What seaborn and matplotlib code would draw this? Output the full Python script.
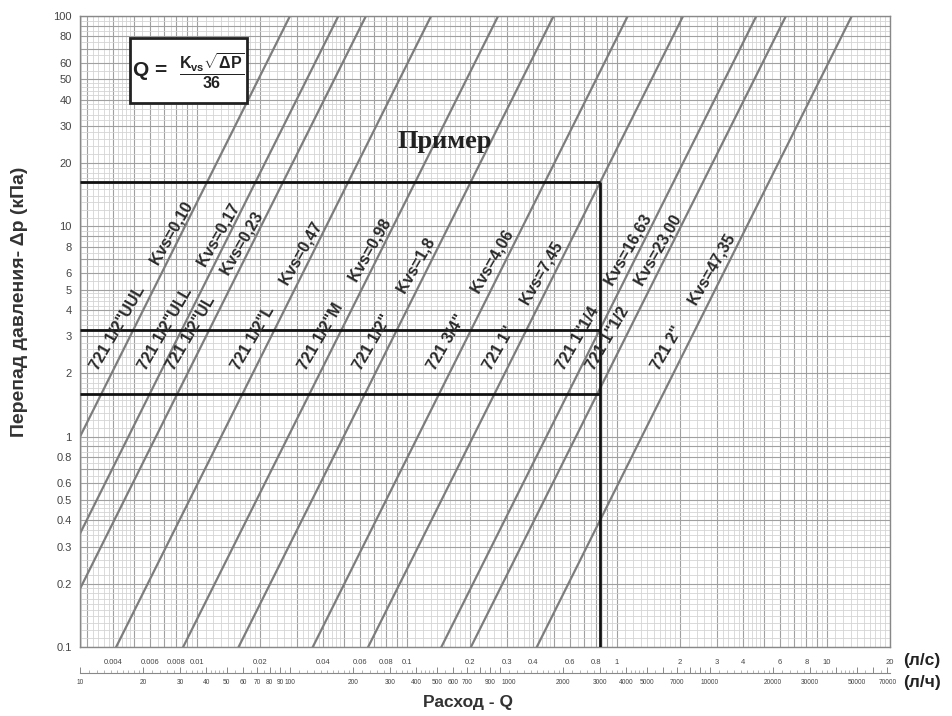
import numpy as np
import pandas as pd
import matplotlib
matplotlib.use('Agg')
import matplotlib.pyplot as plt
import seaborn as sns
from matplotlib import font_manager
from matplotlib.patches import Rectangle
from matplotlib.ticker import NullFormatter
from matplotlib.transforms import ScaledTranslation

# valve data: Kvs value, printed Kvs text, model name
kvs = [0.10, 0.17, 0.23, 0.47, 0.98, 1.8, 4.06, 7.45, 16.63, 23.00, 47.35]
kvs_txt = ['0,10', '0,17', '0,23', '0,47', '0,98', '1,8', '4,06', '7,45', '16,63', '23,00', '47,35']
models = ['721 1/2"UUL', '721 1/2"ULL', '721 1/2"UL', '721 1/2"L', '721 1/2"M', '721 1/2"',
          '721 3/4"', '721 1"', '721 1"1/4', '721 1"1/2', '721 2"']

dp_ends = [0.05, 200]      # kPa, lines run past the frame
label_dp = 2.05            # where the labels start

# example ("Пример")
ex_q = 3000                # l/h
ex_dp = [16.2, 3.2, 1.6]   # kPa

# tick labels
ls_labels = [0.004, 0.006, 0.008, 0.01, 0.02, 0.04, 0.06, 0.08, 0.1, 0.2, 0.3, 0.4,
             0.6, 0.8, 1, 2, 3, 4, 6, 8, 10, 20]
lh_labels = [10, 20, 30, 40, 50, 60, 70, 80, 90, 100, 200, 300, 400, 500, 600, 700, 900, 1000,
             2000, 3000, 4000, 5000, 7000, 10000, 20000, 30000, 50000, 70000]
dp_labels = [0.1, 0.2, 0.3, 0.4, 0.5, 0.6, 0.8, 1, 2, 3, 4, 5, 6, 8, 10, 20, 30, 40, 50, 60, 80, 100]

sns.set_style('white')
names = {f.name for f in font_manager.fontManager.ttflist}
narrow = 'Liberation Sans Narrow' if 'Liberation Sans Narrow' in names else 'Liberation Sans'
plt.rcParams['font.family'] = ['Liberation Sans', 'DejaVu Sans']
plt.rcParams['mathtext.fontset'] = 'custom'
plt.rcParams['mathtext.bf'] = 'Liberation Sans:bold'
plt.rcParams['mathtext.rm'] = 'Liberation Sans:bold'
plt.rcParams['mathtext.it'] = 'Liberation Sans:bold'

rows = []
for k, m in zip(kvs, models):
    for d in dp_ends:
        rows.append({'model': m, 'q': k * np.sqrt(d) / 36, 'dp': d})
df = pd.DataFrame(rows)

fig = plt.figure(figsize=(9.52, 7.16), dpi=100)
ax = fig.add_axes([80 / 952, 69 / 716, 810 / 952, 631 / 716])

sns.lineplot(data=df, x='q', y='dp', units='model', estimator=None, sort=False,
             color='#7d7d7d', lw=1.6, legend=False, ax=ax, zorder=2)

ax.set_xscale('log')
ax.set_yscale('log')
xmin, xmax = 10 / 3600, 20
ax.set_xlim(xmin, xmax)
ax.set_ylim(0.1, 100)


def decade_steps(lo, hi, subs):
    out = []
    for e in range(-4, 6):
        for s in subs:
            v = s * 10.0 ** e
            if lo * 0.999 <= v <= hi * 1.001:
                out.append(v)
    return out


major_subs = [1, 2, 3, 4, 5, 6, 7, 8, 9]
fine_subs = [1.1, 1.2, 1.3, 1.4, 1.5, 1.6, 1.7, 1.8, 1.9, 2.2, 2.4, 2.6, 2.8, 3.2, 3.4, 3.6, 3.8,
             4.2, 4.4, 4.6, 4.8, 5.5, 6.5, 7.5, 8.5, 9.5]


def labels_for(vals, shown):
    return [f'{v:g}' if any(np.isclose(v, s) for s in shown) else '' for v in vals]


xmaj = decade_steps(xmin, xmax, major_subs)
ax.set_xticks(xmaj)
ax.set_xticklabels(labels_for(xmaj, ls_labels))
ax.set_xticks(decade_steps(xmin, xmax, fine_subs), minor=True)
ymaj = decade_steps(0.1, 100, major_subs)
ax.set_yticks(ymaj)
ax.set_yticklabels(labels_for(ymaj, dp_labels))
ax.set_yticks(decade_steps(0.1, 100, fine_subs), minor=True)
ax.xaxis.set_minor_formatter(NullFormatter())
ax.yaxis.set_minor_formatter(NullFormatter())

ax.grid(which='major', color='#a0a0a0', lw=0.8)
ax.grid(which='minor', color='#d4d4d4', lw=0.6)
ax.set_axisbelow(True)
ax.tick_params(axis='x', which='major', direction='out', length=3.6, width=0.8, color='#777',
               pad=5, labelsize=5.5, labelcolor='#444')
ax.tick_params(axis='y', which='major', direction='out', length=3, width=0.8, color='#777',
               pad=3, labelsize=8, labelcolor='#444')
ax.tick_params(which='minor', length=0)
for lab in ax.get_xticklabels() + ax.get_yticklabels():
    lab.set_family(narrow)
for s in ax.spines.values():
    s.set_color('#888')
    s.set_linewidth(1)
ax.set_xlabel('')
ax.set_ylabel('')

# second flow scale in l/h
sec = ax.secondary_xaxis(-26 / 631, functions=(lambda x: x * 3600, lambda x: x / 3600))
hmaj = decade_steps(10, 72000, major_subs)
sec.set_xticks(hmaj)
sec.set_xticklabels(labels_for(hmaj, lh_labels))
sec.set_xticks(decade_steps(10, 72000, fine_subs), minor=True)
sec.xaxis.set_minor_formatter(NullFormatter())
sec.tick_params(which='major', direction='in', length=4, width=0.7, color='#888',
                pad=4, labelsize=4.8, labelcolor='#444')
sec.tick_params(which='minor', direction='in', length=2, width=0.5, color='#999')
sec.spines['bottom'].set_color('#888')
for lab in sec.get_xticklabels():
    lab.set_family(narrow)
    if lab.get_text() == '1000':   # nudged right in the original, like here
        lab.set_transform(lab.get_transform() + ScaledTranslation(6 / 72, 0, fig.dpi_scale_trans))

# valve labels along lines
for k, m, t in zip(kvs, models, kvs_txt):
    x0 = k * np.sqrt(label_dp) / 36
    ax.annotate(f'{m}      Kvs={t}', xy=(x0, label_dp), xytext=(-11, 0),
                textcoords='offset points', rotation=60, rotation_mode='anchor',
                ha='left', va='baseline', fontsize=11.5, fontweight='bold',
                color='#2a2a2a', zorder=4)

# example lines
qx = ex_q / 3600
ax.hlines(ex_dp, xmin, qx, color='#111', lw=2, zorder=3)
ax.vlines(qx, 0.1, max(ex_dp), color='#111', lw=2, zorder=3)
ax.text(0.4506, 0.8019, 'Пример', transform=ax.transAxes, ha='center', va='center',
        family='Liberation Serif', fontweight='bold', fontsize=19, color='#222', zorder=4)

# formula box
ax.add_patch(Rectangle((0.062, 0.862), 0.144, 0.103, transform=ax.transAxes,
                       facecolor='white', edgecolor='#222', lw=2, zorder=5))
ax.text(0.086, 0.913, 'Q =', transform=ax.transAxes, ha='center', va='center',
        fontsize=15, fontweight='bold', color='#222', zorder=6)
ax.text(0.163, 0.913, r'$\mathbf{\dfrac{K_{vs}\sqrt{\Delta P}}{36}}$',
        transform=ax.transAxes, ha='center', va='center', fontsize=11.5, color='#222', zorder=6)

# axis titles
fig.text(20 / 952, 1 - 302 / 716, 'Перепад давления- Δp (кПа)', rotation=90, ha='center',
         va='center', fontsize=14, fontweight='bold', color='#333')
fig.text(468 / 952, 1 - 703 / 716, 'Расход - Q', ha='center', va='center', fontsize=12.5,
         fontweight='bold', color='#333')
fig.text(922 / 952, 1 - 661 / 716, '(л/с)', ha='center', va='center', fontsize=12.5,
         fontweight='bold', color='#222')
fig.text(922 / 952, 1 - 682 / 716, '(л/ч)', ha='center', va='center', fontsize=12.5,
         fontweight='bold', color='#222')

fig.savefig('out.png', dpi=100)
